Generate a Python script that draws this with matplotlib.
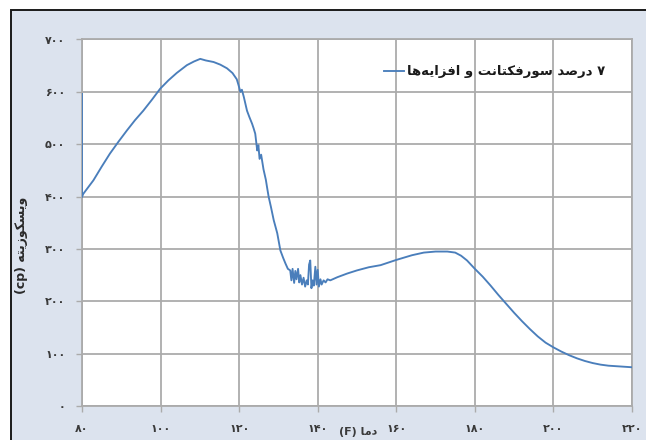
import matplotlib
matplotlib.use("Agg")
import matplotlib.pyplot as plt
from matplotlib.patches import Rectangle
from matplotlib import font_manager
from matplotlib.ft2font import FT2Font

# ---------------- data ----------------
temp_f = [80, 80, 80.3, 82.9, 85, 87.1, 89.3, 91.4, 93.5, 95.6, 97.8, 99.9, 102, 104.1, 106.7,
          108.5, 110.1, 111.5, 113.5, 115.2, 116.9, 118.3, 119.4, 119.8, 120.1, 120.3, 120.7,
          121.2, 122.0, 122.6, 123.3, 123.7, 124.1, 124.6, 124.9, 125.2, 125.6, 126.2,
          126.8, 127.1, 127.5, 128.1, 128.8, 129.7, 130.5, 131.2, 131.8, 132.4, 133.0,
          133.3, 133.6, 134.0, 134.3, 134.6, 135.0, 135.3, 135.6, 136.0, 136.4, 136.8,
          137.2, 137.5, 137.8, 138.1, 138.4, 138.7, 139.0, 139.4, 139.7, 140.0, 140.3,
          140.7, 141.0, 141.5, 142.0, 142.5, 143.2, 145, 147.5, 150, 153, 156, 160, 164,
          167, 170, 173, 175, 176.5, 178, 180, 182, 184, 186, 188, 190, 192, 194, 196,
          198, 200, 202, 204, 206, 208, 210, 212, 214, 216, 218, 220]
viscosity_cp = [596, 399, 405, 431, 457, 482, 505, 526, 546, 564, 585, 606, 622, 636, 651,
                658, 663, 660, 657, 652, 645, 636, 624, 614, 606, 600, 604,
                590, 564, 552, 539, 530, 520, 488, 498, 472, 480, 452,
                432, 418, 400, 380, 355, 330, 297, 283, 272, 262, 259,
                240, 262, 235, 258, 242, 262, 236, 250, 232, 245, 228,
                240, 232, 270, 278, 225, 240, 230, 266, 232, 260, 228,
                242, 232, 240, 236, 242, 240, 246, 253, 259, 265, 269, 279, 288,
                293, 295, 295, 293, 287, 278, 262, 247, 230, 212, 195, 178, 162, 147, 133,
                121, 112, 104, 97, 91, 86, 82, 79, 77, 76, 75, 74]

x_ticks = [80, 100, 120, 140, 160, 180, 200, 220]
y_ticks = [0, 100, 200, 300, 400, 500, 600, 700]

y_label_word = "ویسکوزیته"
y_label_unit = "(cp)"
x_label_word = "دما"
x_label_unit = "(F)"
series_name = "۷ درصد سورفکتانت و افزایه‌ها"

# ------------- simple Persian shaping -------------
FORMS = {  # iso, fin, ini, med
    'ا': ('\uFE8D', '\uFE8E', None, None),
    'ت': ('\uFE95', '\uFE96', '\uFE97', '\uFE98'),
    'د': ('\uFEA9', '\uFEAA', None, None),
    'ر': ('\uFEAD', '\uFEAE', None, None),
    'ز': ('\uFEAF', '\uFEB0', None, None),
    'س': ('\uFEB1', '\uFEB2', '\uFEB3', '\uFEB4'),
    'ص': ('\uFEB9', '\uFEBA', '\uFEBB', '\uFEBC'),
    'ف': ('\uFED1', '\uFED2', '\uFED3', '\uFED4'),
    'م': ('\uFEE1', '\uFEE2', '\uFEE3', '\uFEE4'),
    'ن': ('\uFEE5', '\uFEE6', '\uFEE7', '\uFEE8'),
    'ه': ('\uFEE9', '\uFEEA', '\uFEEB', '\uFEEC'),
    'و': ('\uFEED', '\uFEEE', None, None),
    'ک': ('\uFB8E', '\uFB8F', '\uFB90', '\uFB91'),
    'ی': ('\uFBFC', '\uFBFD', '\uFBFE', '\uFBFF'),
}
FALLBACK = {
    'ک': ('\uFED9', '\uFEDA', '\uFEDB', '\uFEDC'),
    'ی': ('\uFEEF', '\uFEF0', '\uFEF3', '\uFEF4'),
}
try:
    _ft = FT2Font(font_manager.findfont("DejaVu Sans"))
    for k, forms in list(FORMS.items()):
        if any(f is not None and _ft.get_char_index(ord(f)) == 0 for f in forms):
            if k in FALLBACK:
                FORMS[k] = FALLBACK[k]
except Exception:
    pass


def dual(c):
    return c in FORMS and FORMS[c][2] is not None


def joins(c):
    return c in FORMS


def shape_rtl(text):
    out = []
    n = len(text)
    for i, c in enumerate(text):
        if c not in FORMS:
            if c != '\u200c':
                out.append(c)
            continue
        prev = text[i - 1] if i > 0 else ''
        nxt = text[i + 1] if i + 1 < n else ''
        jp = dual(prev)
        jn = dual(c) and joins(nxt)
        iso, fin, ini, med = FORMS[c]
        if jp and jn:
            out.append(med)
        elif jp:
            out.append(fin)
        elif jn:
            out.append(ini)
        else:
            out.append(iso)
    return ''.join(reversed(out))


# ---------------- figure ----------------
W, H = 646, 440
fig = plt.figure(figsize=(W / 100, H / 100), dpi=100)
fig.patch.set_facecolor('white')
bg = Rectangle((11 / W, -0.02), 1.0, (H - 10) / H + 0.02,
               transform=fig.transFigure, facecolor='#dce3ee',
               edgecolor='#1a1a1a', linewidth=1.4, zorder=-10)
fig.patches.append(bg)

ax = fig.add_axes([82 / W, (H - 406) / H, (632 - 82) / W, (406 - 39.5) / H])
ax.set_zorder(1)
ax.set_facecolor('white')
line_color = '#4a7ebb'
ax.plot(temp_f, viscosity_cp, color=line_color, lw=1.35,
        label=shape_rtl(series_name), zorder=3)

ax.set_xlim(80, 220)
ax.set_ylim(0, 700)
ax.set_xticks(x_ticks)
ax.set_yticks(y_ticks)

fa = str.maketrans('0123456789', '۰۱۲۳۴۵۶۷۸۹')
ax.set_xticklabels([str(v).translate(fa) for v in x_ticks])
ax.set_yticklabels([str(v).translate(fa) for v in y_ticks])

grid_c = '#ababab'
ax.grid(True, color=grid_c, lw=1.3, zorder=1)
ax.set_axisbelow(True)
for s in ax.spines.values():
    s.set_color(grid_c)
    s.set_linewidth(1.3)
ax.tick_params(axis='both', direction='out', length=4, width=1.0, color=grid_c,
               labelsize=8, labelcolor='#3a3a3a')
for lab in ax.get_xticklabels() + ax.get_yticklabels():
    lab.set_fontweight('bold')
ax.tick_params(axis='y', pad=8)
ax.tick_params(axis='x', pad=9)

fig.text(22 / W, 1 - 245 / H, y_label_unit + " " + shape_rtl(y_label_word),
         rotation=90, ha='center', va='center', fontsize=9, fontweight='bold',
         color='#2a2a2a', zorder=5)
fig.text(358 / W, 1 - 432 / H, x_label_unit + " " + shape_rtl(x_label_word),
         ha='center', va='center', fontsize=8, fontweight='bold', color='#3a3a3a',
         zorder=5)

leg = ax.legend(loc='center right', bbox_to_anchor=((605 - 82) / (632 - 82), (406 - 72) / (406 - 39.5)),
                frameon=False, fontsize=9.5, handlelength=1.5, handletextpad=0.2,
                borderpad=0, borderaxespad=0)
for t in leg.get_texts():
    t.set_color('#1a1a1a')
    t.set_fontweight('bold')

fig.savefig('out.png', dpi=100, facecolor=fig.get_facecolor())
